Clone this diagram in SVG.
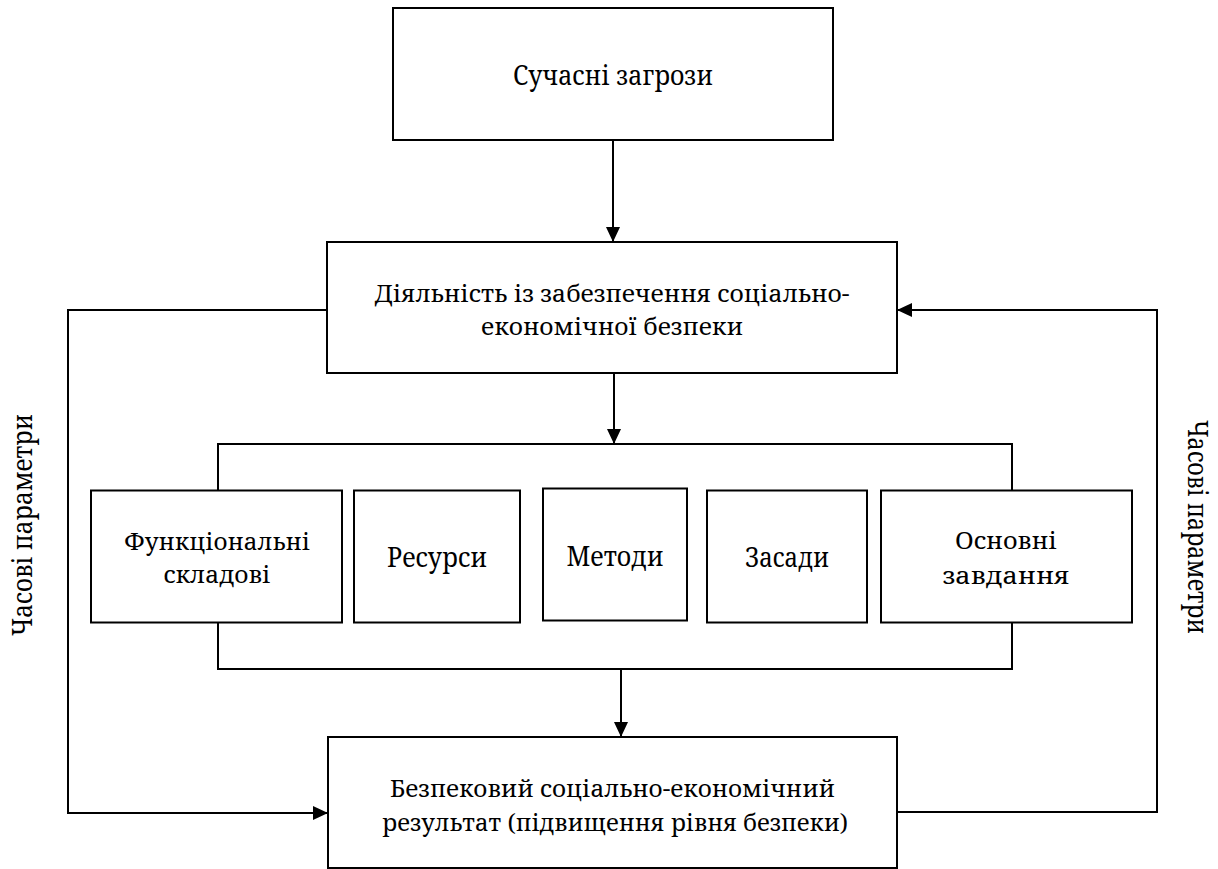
<svg xmlns="http://www.w3.org/2000/svg" width="1218" height="869" viewBox="0 0 1218 869">
<style>
.box{fill:#fff;stroke:#000;stroke-width:2}
.ln{fill:none;stroke:#000;stroke-width:2}
.t{font-family:'Noto Serif','DejaVu Serif',serif;font-size:24px;fill:#000;text-anchor:middle}
.big{font-size:27px}
</style>
<defs>
<marker id="ah" markerUnits="userSpaceOnUse" markerWidth="15" markerHeight="14" refX="15" refY="7" orient="auto">
<path d="M0,0 L15,7 L0,14 z" fill="#000"/>
</marker>
</defs>
<rect width="1218" height="869" fill="#fff"/>
<g id="connectors">
<path class="ln" d="M613,140 L613,242" marker-end="url(#ah)"/>
<path class="ln" d="M614,373 L614,444" marker-end="url(#ah)"/>
<path class="ln" d="M218,490.5 L218,444 L1012,444 L1012,490.5"/>
<path class="ln" d="M218,622.5 L218,669 L1012,669 L1012,622.5"/>
<path class="ln" d="M621,669 L621,737" marker-end="url(#ah)"/>
<path class="ln" d="M327,310 L68,310 L68,813 L328,813" marker-end="url(#ah)"/>
<path class="ln" d="M897,812 L1157,812 L1157,310 L897,310" marker-end="url(#ah)"/>
</g>
<g id="threats">
<rect class="box" x="393" y="8" width="440" height="132"/>
<text class="t big" x="613" y="85" textLength="200" lengthAdjust="spacingAndGlyphs">Сучасні загрози</text>
</g>
<g id="activity">
<rect class="box" x="327" y="242" width="570" height="131"/>
<text class="t"><tspan x="612" y="302" textLength="475" lengthAdjust="spacingAndGlyphs">Діяльність із забезпечення соціально-</tspan><tspan x="612" y="335" textLength="262" lengthAdjust="spacingAndGlyphs">економічної безпеки</tspan></text>
</g>
<g id="functional">
<rect class="box" x="91" y="490.5" width="251" height="132"/>
<text class="t"><tspan x="217" y="550" textLength="186" lengthAdjust="spacingAndGlyphs">Функціональні</tspan><tspan x="217" y="583" textLength="107" lengthAdjust="spacingAndGlyphs">складові</tspan></text>
</g>
<g id="resources">
<rect class="box" x="354" y="490.5" width="166" height="132"/>
<text class="t big" x="437" y="567" textLength="100" lengthAdjust="spacingAndGlyphs">Ресурси</text>
</g>
<g id="methods">
<rect class="box" x="543" y="488.5" width="144" height="132"/>
<text class="t big" x="615" y="566" textLength="97" lengthAdjust="spacingAndGlyphs">Методи</text>
</g>
<g id="principles">
<rect class="box" x="707" y="490.5" width="160" height="132"/>
<text class="t big" x="787" y="567" textLength="84" lengthAdjust="spacingAndGlyphs">Засади</text>
</g>
<g id="tasks">
<rect class="box" x="881" y="490.5" width="251" height="132"/>
<text class="t"><tspan x="1006" y="549" textLength="102" lengthAdjust="spacingAndGlyphs">Основні</tspan><tspan x="1006" y="584" textLength="127" lengthAdjust="spacingAndGlyphs">завдання</tspan></text>
</g>
<g id="result">
<rect class="box" x="328" y="737" width="569" height="131"/>
<text class="t"><tspan x="612.5" y="797" textLength="445" lengthAdjust="spacingAndGlyphs">Безпековий соціально-економічний</tspan><tspan x="615" y="831" textLength="466" lengthAdjust="spacingAndGlyphs">результат (підвищення рівня безпеки)</tspan></text>
</g>
<g id="time-left">
<text class="t big" transform="translate(32,525) rotate(-90)" textLength="222" lengthAdjust="spacingAndGlyphs">Часові параметри</text>
</g>
<g id="time-right">
<text class="t big" transform="translate(1188,527) rotate(90)" textLength="214" lengthAdjust="spacingAndGlyphs">Часові параметри</text>
</g>
</svg>
